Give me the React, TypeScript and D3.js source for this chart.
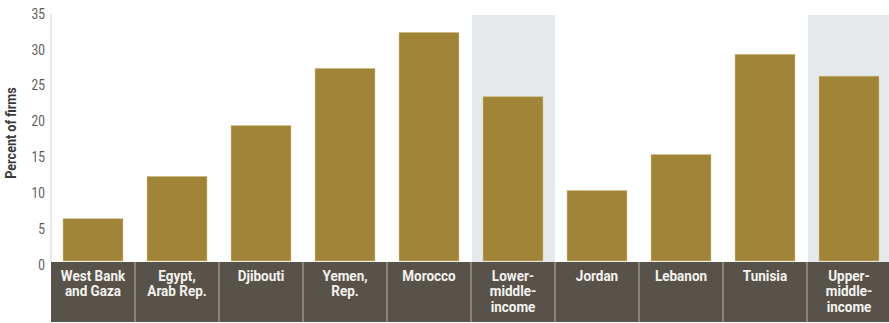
import React from "react";
import * as d3 from "d3";

const categories: string[][] = [
  ["West Bank", "and Gaza"],
  ["Egypt,", "Arab Rep."],
  ["Djibouti"],
  ["Yemen,", "Rep."],
  ["Morocco"],
  ["Lower-", "middle-", "income"],
  ["Jordan"],
  ["Lebanon"],
  ["Tunisia"],
  ["Upper-", "middle-", "income"],
];
const values: number[] = [6, 12, 19.2, 27.3, 32.4, 23.3, 10, 15.1, 29.3, 26.2];
const highlighted: boolean[] = [false, false, false, false, false, true, false, false, false, true];
const yTicks: number[] = [0, 5, 10, 15, 20, 25, 30, 35];
const yLabel = "Percent of firms";

const W = 889;
const H = 323;
const left = 51;
const right = 891;
const yZero = 261;
const yTop = 14;
const bandBottom = 322;
const font = "'Roboto', 'Liberation Sans', sans-serif";

export default function App() {
  const keys = categories.map((_, i) => String(i));
  const x = d3.scaleBand<string>().domain(keys).range([left, right]).padding(0);
  const y = d3.scaleLinear().domain([0, 35]).range([yZero, yTop]);
  const yLab = d3.scaleLinear().domain([0, 35]).range([266, 15]);
  const bw = x.bandwidth();
  const barPad = 12;

  return (
    <svg
      width={W}
      height={H}
      style={{ position: "absolute", left: 0, top: 0, background: "#fff" }}
    >
      {keys.map((k, i) =>
        highlighted[i] ? (
          <rect
            key={"bg" + k}
            x={x(k)! + 1}
            y={y(35) + 1}
            width={bw - 1}
            height={yZero - y(35)}
            fill="#e6e9ec"
          />
        ) : null
      )}
      <line x1={left} x2={left} y1={yTop} y2={yZero + 1} stroke="#d2d2d2" strokeWidth={1} />
      {yTicks.map((t) => (
        <text
          key={"t" + t}
          transform={`translate(45, ${yLab(t)}) scale(0.85, 1)`}
          textAnchor="end"
          dominantBaseline="middle"
          fontFamily={font}
          fontSize={14}
          fill="#5a5a5a"
        >
          {t}
        </text>
      ))}
      <text
        transform={`translate(12, 133) rotate(-90) scale(0.9, 1)`}
        textAnchor="middle"
        dominantBaseline="middle"
        fontFamily={font}
        fontWeight="bold"
        fontSize={14}
        fill="#3a3a3a"
      >
        {yLabel}
      </text>
      {keys.map((k, i) => (
        <rect
          key={"b" + k}
          x={x(k)! + barPad}
          y={y(values[i])}
          width={bw - 2 * barPad}
          height={yZero - y(values[i])}
          fill="#a08438"
          stroke="#d9c98f"
          strokeWidth={0.5}
        />
      ))}
      <rect x={left} y={yZero + 1} width={W - left} height={bandBottom - yZero - 1} fill="#58534a" />
      {keys.map((k, i) =>
        i > 0 ? (
          <line
            key={"sep" + k}
            x1={x(k)!}
            x2={x(k)!}
            y1={yZero + 1}
            y2={bandBottom}
            stroke="#b9b4aa"
            strokeWidth={1}
          />
        ) : null
      )}
      {keys.map((k, i) => (
        <text
          key={"c" + k}
          transform={`translate(${x(k)! + bw / 2}, ${yZero + 20}) scale(0.9, 1)`}
          textAnchor="middle"
          fontFamily={font}
          fontWeight="bold"
          fontSize={15}
          fill="#f4f2ee"
        >
          {categories[i].map((line, j) => (
            <tspan key={j} x={0} dy={j === 0 ? 0 : 15.5}>
              {line}
            </tspan>
          ))}
        </text>
      ))}
    </svg>
  );
}
